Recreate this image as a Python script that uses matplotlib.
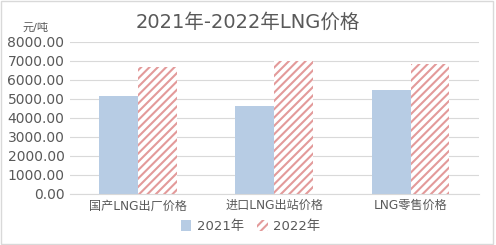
import matplotlib.pyplot as plt
import numpy as np

plt.rcParams['font.family'] = ['DejaVu Sans', 'Noto Sans CJK SC']
plt.rcParams['hatch.linewidth'] = 1.5
plt.rcParams['hatch.color'] = '#E39A9A'

categories = ['国产LNG出厂价格', '进口LNG出站价格', 'LNG零售价格']
series_names = ['2021年', '2022年']
values_2021 = [5130, 4640, 5490]
values_2022 = [6700, 7020, 6810]
yticks = [0, 1000, 2000, 3000, 4000, 5000, 6000, 7000, 8000]

gray = '#595959'

fig = plt.figure(figsize=(4.96, 2.45), dpi=100)
ax = fig.add_axes([0.141, 0.209, 0.824, 0.62])

x = np.arange(len(categories))
w = 0.285
ax.bar(x - w / 2, values_2021, w, color='#B7CCE4', label=series_names[0], zorder=2)
ax.bar(x + w / 2, values_2022, w, color='white', edgecolor='#E39A9A', linewidth=0,
       hatch='////', label=series_names[1], zorder=2)

ax.set_xlim(-0.5, 2.5)
ax.set_ylim(0, 8000)
ax.set_yticks(yticks)
ax.set_yticklabels(['%.2f' % v for v in yticks], color=gray, fontsize=10)
ax.set_xticks(x)
ax.set_xticklabels(categories, color=gray, fontsize=8.7)
ax.tick_params(length=0, pad=4)
ax.yaxis.grid(True, color='#D9D9D9', linewidth=0.8, zorder=0)
for s in ['top', 'right', 'left']:
    ax.spines[s].set_visible(False)
ax.spines['bottom'].set_color('#D9D9D9')

fig.text(0.5, 0.91, '2021年-2022年LNG价格', ha='center', va='center', fontsize=14, color=gray)
fig.text(0.045, 0.885, '元/吨', ha='left', va='center', fontsize=8, color=gray)

leg = fig.legend(loc='center', bbox_to_anchor=(0.505, 0.075), ncol=2, frameon=False,
                 fontsize=9.5, handlelength=0.8, handleheight=0.8, columnspacing=1.0,
                 handletextpad=0.4)
for t in leg.get_texts():
    t.set_color(gray)

fig.patches.append(plt.Rectangle((0.003, 0.006), 0.99, 0.988, transform=fig.transFigure,
                                 fill=False, edgecolor='#D9D9D9', linewidth=1))

fig.savefig('out.png', dpi=100)
